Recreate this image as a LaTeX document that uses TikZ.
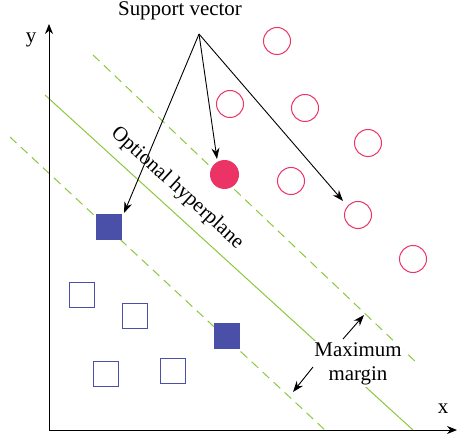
\documentclass[tikz,border=0pt]{standalone}
\usepackage{fontspec}
\setmainfont{Liberation Serif}
\usetikzlibrary{arrows.meta}
\definecolor{svred}{HTML}{EC3366}
\definecolor{svblue}{HTML}{4A4FA8}
\definecolor{svgreen}{HTML}{8CC83C}
\begin{document}
\begin{tikzpicture}[x=1bp,y=-1bp,
  lbl/.style={font=\fontsize{21}{24.5}\selectfont, inner sep=1bp},
  axis/.style={line width=1bp, -{Stealth[length=10bp,width=8bp]}},
  ptr/.style={line width=0.9bp, -{Stealth[length=11bp,width=8bp]}},
  opencirc/.style={circle, draw=svred, line width=1bp, minimum size=27bp, inner sep=0pt},
  fullcirc/.style={circle, fill=svred, minimum size=29bp, inner sep=0pt},
  opensq/.style={rectangle, draw=svblue, line width=1bp, minimum size=25bp, inner sep=0pt},
  fullsq/.style={rectangle, fill=svblue, minimum size=26bp, inner sep=0pt},
  hyper/.style={svgreen, line width=1bp},
  marg/.style={svgreen, line width=1bp, dash pattern=on 9bp off 6bp}]
\useasboundingbox (0,0) rectangle (457,442);
% margin and hyperplane lines
\coordinate (d1a) at (93,55);
\coordinate (d1b) at (418,364);
\coordinate (d2a) at (10,137);
\coordinate (d2b) at (325,430);
\coordinate (ha) at (45,95);
\coordinate (hb) at (413,430);
\draw[marg] (d1a) -- (d1b);
\draw[marg] (d2a) -- (d2b);
\draw[hyper] (ha) -- (hb);
% axes
\coordinate (o) at (49,430);
\coordinate (ytip) at (49,24);
\coordinate (xtip) at (457,430);
\draw[axis] (o) -- (ytip);
\draw[axis] (o) -- (xtip);
\node[lbl] (ylab) at (31,40) {y};
\node[lbl] (xlab) at (443,409) {x};
% circles
\node[opencirc] (c1) at (277,41) {};
\node[opencirc] (c2) at (230,104) {};
\node[opencirc] (c3) at (305,108) {};
\node[opencirc] (c4) at (368,143) {};
\node[opencirc] (c5) at (291,181) {};
\node[opencirc] (c6) at (358,215) {};
\node[opencirc] (c7) at (413,259) {};
\node[fullcirc] (cs) at (224.5,174.5) {};
% squares
\node[opensq] (s1) at (81.5,295) {};
\node[opensq] (s2) at (135,316) {};
\node[opensq] (s3) at (106,374) {};
\node[opensq] (s4) at (172.5,371) {};
\node[fullsq] (sa) at (109,227) {};
\node[fullsq] (sb) at (227,336) {};
% support vector labels
\node[lbl, anchor=north] (svt) at (180,0.5) {Support vector};
\coordinate (svo) at (199,34);
\coordinate (t1) at (124,213);
\coordinate (t2) at (217,159);
\coordinate (t3) at (343,201);
\draw[ptr] (svo) -- (t1);
\draw[ptr] (svo) -- (t2);
\draw[ptr] (svo) -- (t3);
% hyperplane label
\node[lbl, rotate=-42.3] (hyp) at (177,188) {Optional hyperplane};
% maximum margin
\node[lbl, fill=white, align=center, inner sep=2bp] (mm) at (358,364) {Maximum\\margin};
\coordinate (m1s) at (343,339);
\coordinate (m1t) at (364,315);
\coordinate (m2s) at (313,367);
\coordinate (m2t) at (293,392);
\draw[ptr] (m1s) -- (m1t);
\draw[ptr] (m2s) -- (m2t);
\end{tikzpicture}
\end{document}
